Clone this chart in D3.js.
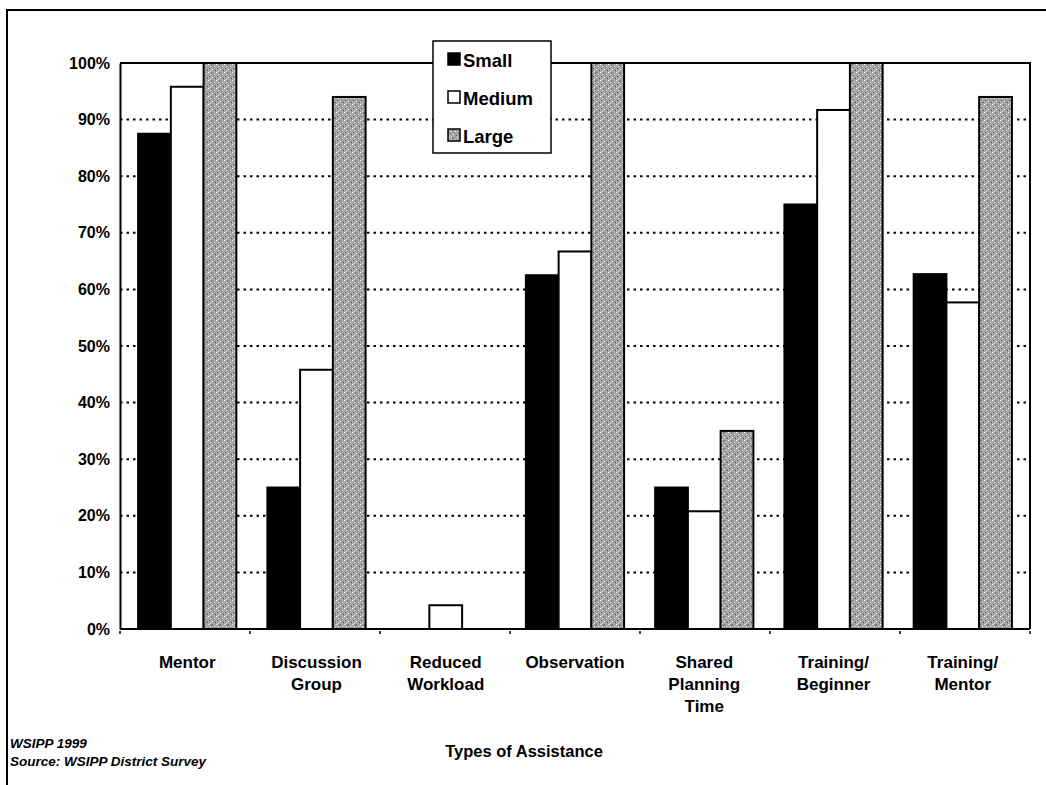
<!DOCTYPE html>
<html><head><meta charset="utf-8">
<script src="https://cdn.jsdelivr.net/npm/d3@7"></script>
<style>
body{margin:0;background:#fff;}
svg{display:block;font-family:"Liberation Sans",Arial,sans-serif;}
</style></head>
<body>
<svg id="chart" width="1046" height="785"></svg>
<script>
const categories = [["Mentor"],["Discussion","Group"],["Reduced","Workload"],["Observation"],["Shared","Planning","Time"],["Training/","Beginner"],["Training/","Mentor"]];
const seriesNames = ["Small","Medium","Large"];
const small  = [87.5, 25, 0, 62.5, 25, 75, 62.7];
const medium = [95.8, 45.8, 4.2, 66.7, 20.8, 91.7, 57.7];
const large  = [100, 94, 0, 100, 35, 100, 94];
const yTicks = [0,10,20,30,40,50,60,70,80,90,100];

const svg = d3.select("#chart");
const defs = svg.append("defs");
// stipple texture for "Large"
const pat = defs.append("pattern").attr("id","stip").attr("patternUnits","userSpaceOnUse").attr("width",8).attr("height",8);
pat.append("rect").attr("width",8).attr("height",8).attr("fill","#a4a4a4");
const dots = [[0,0,"#fff"],[3,1,"#555"],[6,2,"#ddd"],[1,4,"#666"],[4,5,"#fff"],[7,6,"#444"],[2,7,"#e6e6e6"],[5,3,"#777"],[0,6,"#ccc"],[6,5,"#888"],[2,2,"#f2f2f2"],[4,0,"#666"]];
dots.forEach(d=>pat.append("rect").attr("x",d[0]).attr("y",d[1]).attr("width",1).attr("height",1).attr("fill",d[2]));

const L=120, R=1030, T=63, B=629;
const x0 = d3.scaleBand().domain(d3.range(categories.length)).range([L,R]).paddingInner(0.24).paddingOuter(0.14);
const x1 = d3.scaleBand().domain(seriesNames).range([0,x0.bandwidth()]);
const y = d3.scaleLinear().domain([0,100]).range([B,T]);

// outer frame
svg.append("path").attr("d",`M7,785 V10 H1046`).attr("fill","none").attr("stroke","#000").attr("stroke-width",2);

// gridlines
svg.append("g").selectAll("line").data(yTicks.filter(t=>t>0&&t<100)).join("line")
  .attr("x1",L).attr("x2",R).attr("y1",d=>y(d)).attr("y2",d=>y(d))
  .attr("stroke","#000").attr("stroke-width",2).attr("stroke-dasharray","2.5,4");

// plot border top/right
svg.append("path").attr("d",`M${L},${y(100)} H${R} V${B}`).attr("fill","none").attr("stroke","#000").attr("stroke-width",2);

// bars
const data = categories.map((c,i)=>({i, vals:[small[i],medium[i],large[i]]}));
const g = svg.append("g");
const fills = {Small:"#000",Medium:"#fff",Large:"url(#stip)"};
data.forEach(d=>{
  seriesNames.forEach((s,k)=>{
    const v=d.vals[k];
    if(v<=0) return;
    g.append("rect").attr("x",x0(d.i)+x1(s)).attr("width",x1.bandwidth())
     .attr("y",y(v)).attr("height",y(0)-y(v))
     .attr("fill",fills[s]).attr("stroke","#000").attr("stroke-width",2);
  });
});

// y axis
const yAxis = svg.append("g").attr("transform",`translate(${L},0)`)
  .call(d3.axisLeft(y).tickValues(yTicks).tickFormat(d=>d+"%").tickSize(0).tickPadding(10));
yAxis.select(".domain").attr("stroke","#000").attr("stroke-width",2);
yAxis.selectAll("text").attr("font-size",16).attr("font-weight","bold").attr("fill","#000");

// x axis
const xAx = svg.append("g").attr("transform",`translate(0,${B})`);
xAx.append("line").attr("x1",L).attr("x2",R).attr("stroke","#000").attr("stroke-width",2);
xAx.selectAll(".tk").data(d3.range(categories.length+1)).join("line")
  .attr("x1",d=>L+d*(R-L)/categories.length).attr("x2",d=>L+d*(R-L)/categories.length)
  .attr("y1",2).attr("y2",5).attr("stroke","#000").attr("stroke-width",1.5);
const lbl = xAx.selectAll(".lbl").data(categories).join("text")
  .attr("x",(d,i)=>x0(i)+x0.bandwidth()/2).attr("y",39)
  .attr("text-anchor","middle").attr("font-size",17).attr("font-weight","bold").attr("fill","#000");
lbl.each(function(d){
  const t=d3.select(this);
  d.forEach((line,j)=>t.append("tspan").attr("x",t.attr("x")).attr("dy",j===0?0:22).text(line));
});

svg.append("text").attr("x",524).attr("y",757).attr("text-anchor","middle")
  .attr("font-size",16.5).attr("font-weight","bold").text("Types of Assistance");

svg.append("text").attr("x",10).attr("y",748).attr("font-size",13.5).attr("font-weight","bold").attr("font-style","italic").text("WSIPP 1999");
svg.append("text").attr("x",10).attr("y",766).attr("font-size",13.5).attr("font-weight","bold").attr("font-style","italic").text("Source:  WSIPP District Survey");

// legend
const lg = svg.append("g").attr("transform","translate(433,41)");
lg.append("rect").attr("width",118).attr("height",112).attr("fill","#fff").attr("stroke","#000").attr("stroke-width",1.5);
seriesNames.forEach((s,k)=>{
  const yy = 20+k*38;
  lg.append("rect").attr("x",15).attr("y",yy-8).attr("width",12).attr("height",12)
    .attr("fill",fills[s]).attr("stroke","#000").attr("stroke-width",1.5);
  lg.append("text").attr("x",30).attr("y",yy+6).attr("font-size",18.5).attr("font-weight","bold").text(s);
});
</script>
</body></html>
